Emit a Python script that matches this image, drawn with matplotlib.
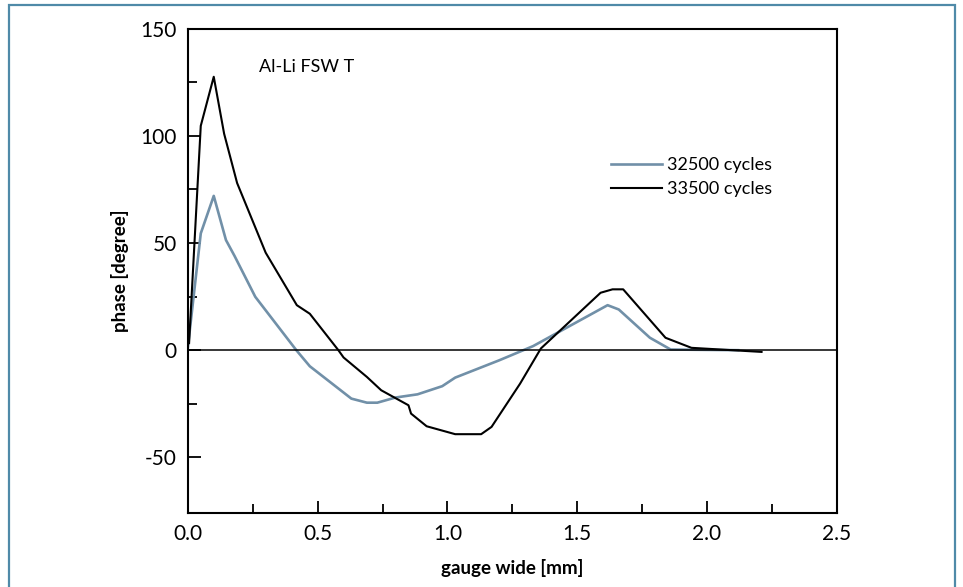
import matplotlib
matplotlib.use("Agg")
import matplotlib.pyplot as plt
from matplotlib.patches import Rectangle
from matplotlib.ticker import MultipleLocator, FixedLocator

plt.rcParams['font.family'] = ['Lato', 'DejaVu Sans']
plt.rcParams['axes.unicode_minus'] = False

# 32500 cycles (blue-grey curve)
x_32500 = [0.0, 0.05, 0.10, 0.147, 0.18, 0.26, 0.418, 0.47, 0.63, 0.69, 0.73,
           0.80, 0.885, 0.98, 1.03, 1.20, 1.33, 1.617, 1.66, 1.78, 1.86, 2.12]
y_32500 = [1, 54.5, 72, 51.4, 44, 24.9, 0, -7.5, -22.6, -24.5, -24.5,
           -22.1, -20.6, -16.8, -12.8, -4.7, 1.9, 21, 19, 5.8, 0.3, 0]

# 33500 cycles (black curve)
x_33500 = [0.005, 0.05, 0.10, 0.14, 0.19, 0.30, 0.42, 0.47, 0.58, 0.60, 0.69,
           0.745, 0.85, 0.86, 0.92, 1.03, 1.13, 1.17, 1.28, 1.36, 1.59, 1.636,
           1.677, 1.84, 1.94, 2.21]
y_33500 = [3.3, 104.7, 127.6, 101, 78, 45.5, 21, 17, 0, -3.4, -12.5,
           -18.7, -25.7, -29.6, -35.5, -39.2, -39.2, -35.8, -15.6, 0.8, 26.8, 28.4,
           28.4, 5.8, 1.1, -0.8]

fig = plt.figure(figsize=(9.63, 5.87), dpi=100)
ax = fig.add_axes([0.195, 0.126, 0.674, 0.825])

ax.plot(x_32500, y_32500, color='#7190a8', lw=1.9, label='32500 cycles')
ax.plot(x_33500, y_33500, color='black', lw=1.5, label='33500 cycles')
ax.axhline(0, color='black', lw=1.1)

ax.set_xlim(0, 2.5)
ax.set_ylim(-76, 150)
ax.xaxis.set_major_locator(MultipleLocator(0.5))
ax.xaxis.set_minor_locator(MultipleLocator(0.25))
ax.yaxis.set_major_locator(MultipleLocator(50))
ax.yaxis.set_minor_locator(FixedLocator([125, 75, 25, -25]))
ax.set_xticklabels([f"{v:.1f}" for v in ax.get_xticks()])
ax.tick_params(which='major', direction='in', length=9, width=1.3, labelsize=15, pad=8)
ax.tick_params(which='minor', direction='in', length=6.5, width=1.3)
for s in ax.spines.values():
    s.set_linewidth(1.5)

ax.set_xlabel('gauge wide [mm]', fontsize=13.5, fontweight='bold', labelpad=11)
ax.set_ylabel('phase [degree]', fontsize=13.5, fontweight='bold', labelpad=8)

ax.text(0.275, 132, 'Al-Li FSW T', fontsize=13, va='center')

ax.legend(loc='upper left', bbox_to_anchor=(0.652, 0.735), frameon=False,
          fontsize=13, handlelength=2.8, handletextpad=0.3, labelspacing=0.45,
          borderaxespad=0, borderpad=0)

fig.patches.append(Rectangle((9 / 963, -0.05), 946 / 963, 1.05 - 5 / 587,
                             transform=fig.transFigure, fill=False,
                             edgecolor='#4f8aa8', lw=1.6))

fig.savefig('out.png', dpi=100)
